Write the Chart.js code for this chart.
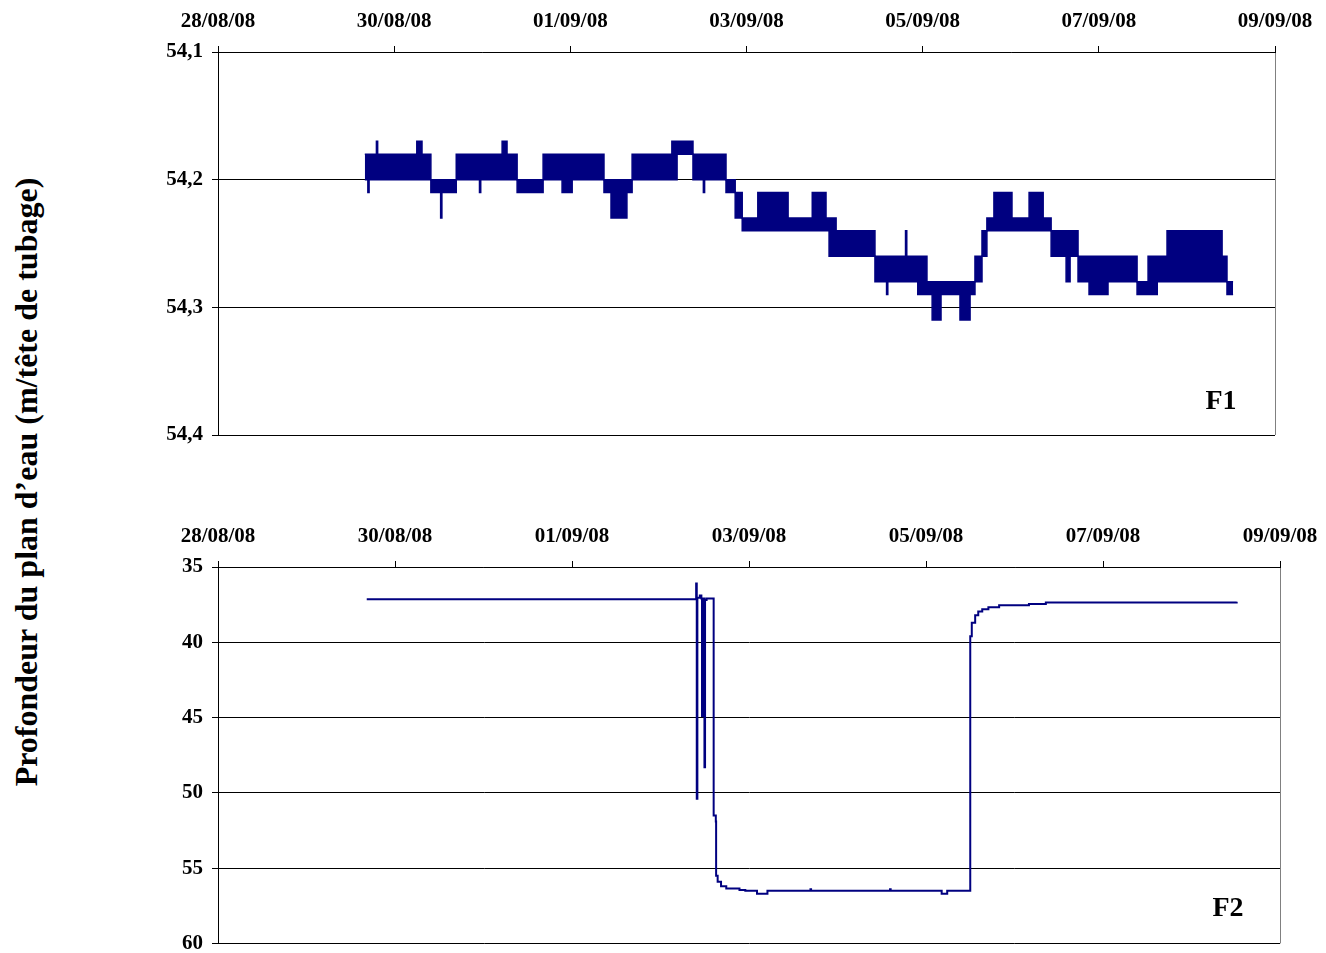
<!DOCTYPE html>
<html>
<head>
<meta charset="utf-8">
<script src="https://cdn.jsdelivr.net/npm/chart.js@4.4.1/dist/chart.umd.min.js"></script>
<style>
  html, body { margin: 0; padding: 0; background: #fff; width: 1326px; height: 953px; overflow: hidden; }
  canvas { position: absolute; left: 0; }
  #c1 { top: 0; }
  #c2 { top: 515px; }
  #ytitle {
    position: absolute; left: 26px; top: 482px;
    transform: translate(-50%, -50%) rotate(-90deg);
    font: bold 32px "Liberation Serif", "Times New Roman", serif;
    white-space: nowrap; color: #000;
  }
</style>
</head>
<body>
<div id="ytitle">Profondeur du plan d’eau (m/tête de tubage)</div>
<canvas id="c1" width="1340" height="470"></canvas>
<canvas id="c2" width="1340" height="450"></canvas>
<script>
// Axis range and tick labels
const axisStart = '28/08/08 00:00';
const axisEnd = '09/09/08 00:00';
const f1Ticks = [54.1, 54.2, 54.3, 54.4];
const f2Ticks = [35, 40, 45, 50, 55, 60];

// F1: water depth recorded as a fast-flickering band; each row gives the
// band's shallow and deep level from that time until the next row.
const f1Time = [
  '29/08/08 16:00','29/08/08 16:50','29/08/08 17:10','29/08/08 19:10','29/08/08 19:30',
  '30/08/08 06:10','30/08/08 07:35','30/08/08 10:00','30/08/08 12:40','30/08/08 13:00',
  '30/08/08 16:55','30/08/08 23:15','30/08/08 23:35','31/08/08 05:25','31/08/08 06:45',
  '31/08/08 09:30','31/08/08 16:35','31/08/08 21:45','01/09/08 00:30','01/09/08 09:10',
  '01/09/08 11:05','01/09/08 15:25','01/09/08 16:50','02/09/08 03:40','02/09/08 05:05',
  '02/09/08 09:25','02/09/08 12:15','02/09/08 12:35','02/09/08 18:25','02/09/08 20:55',
  '02/09/08 22:50','03/09/08 03:05','03/09/08 11:20','03/09/08 17:55','03/09/08 21:40',
  '03/09/08 22:30','04/09/08 00:25','04/09/08 11:00','04/09/08 14:10','04/09/08 14:30',
  '04/09/08 19:20','04/09/08 19:40','04/09/08 22:40','05/09/08 01:10','05/09/08 02:35',
  '05/09/08 05:00','05/09/08 10:10','05/09/08 12:55','05/09/08 14:15','05/09/08 16:10',
  '05/09/08 17:30','05/09/08 19:25','06/09/08 00:20','06/09/08 05:00','06/09/08 08:50',
  '06/09/08 11:00','06/09/08 15:05','06/09/08 16:10','06/09/08 18:20','06/09/08 21:20',
  '07/09/08 02:30','07/09/08 10:25','07/09/08 13:25','07/09/08 15:55','07/09/08 18:35',
  '08/09/08 09:35','08/09/08 10:55','08/09/08 12:35'
];
const f1Min = [
  54.18,54.18,54.18,54.17,54.18,
  54.17,54.18,54.20,54.20,54.20,
  54.18,54.18,54.18,54.17,54.18,
  54.20,54.18,54.18,54.18,54.20,
  54.20,54.20,54.18,54.17,54.17,
  54.18,54.18,54.18,54.20,54.21,
  54.23,54.21,54.23,54.21,54.23,
  54.23,54.24,54.26,54.26,54.26,
  54.24,54.26,54.26,54.28,54.28,
  54.28,54.28,54.28,54.26,54.24,
  54.23,54.21,54.23,54.21,54.23,
  54.24,54.24,54.24,54.26,54.26,
  54.26,54.28,54.26,54.26,54.24,
  54.26,54.28,54.28
];
const f1Max = [
  54.20,54.21,54.20,54.20,54.20,
  54.20,54.20,54.21,54.23,54.21,
  54.20,54.21,54.20,54.20,54.20,
  54.21,54.20,54.21,54.20,54.21,
  54.23,54.21,54.20,54.20,54.18,
  54.20,54.21,54.20,54.21,54.23,
  54.24,54.24,54.24,54.24,54.24,
  54.26,54.26,54.28,54.29,54.28,
  54.28,54.28,54.29,54.29,54.31,
  54.29,54.31,54.29,54.28,54.26,
  54.24,54.24,54.24,54.24,54.24,
  54.26,54.28,54.26,54.28,54.29,
  54.28,54.29,54.29,54.28,54.28,
  54.28,54.29,54.29
];

// F2: water depth, pumping drawdown and recovery
const f2Time = [
  '29/08/08 16:20','02/09/08 09:35','02/09/08 09:40','02/09/08 09:50','02/09/08 10:00',
  '02/09/08 10:40','02/09/08 11:05','02/09/08 11:15','02/09/08 11:25','02/09/08 11:35',
  '02/09/08 11:45','02/09/08 11:55','02/09/08 12:05','02/09/08 12:30','02/09/08 14:20',
  '02/09/08 14:25','02/09/08 15:00','02/09/08 15:05','02/09/08 15:30','02/09/08 16:25',
  '02/09/08 17:50','02/09/08 21:25','02/09/08 23:00','03/09/08 02:00','03/09/08 02:10',
  '03/09/08 04:50','03/09/08 05:00','03/09/08 16:30','03/09/08 16:40','03/09/08 16:50',
  '04/09/08 14:05','04/09/08 14:15','04/09/08 14:25','05/09/08 04:05','05/09/08 04:15',
  '05/09/08 05:35','05/09/08 05:45','05/09/08 11:55','05/09/08 12:00','05/09/08 12:25',
  '05/09/08 13:20','05/09/08 14:10','05/09/08 15:15','05/09/08 16:55','05/09/08 19:50',
  '06/09/08 03:55','06/09/08 08:30','08/09/08 12:15'
];
const f2Depth = [
  37.15,37.15,36.1,50.4,37.05,
  36.9,37.1,44.9,37.2,44.6,
  37.1,48.3,37.2,37.1,37.1,
  51.5,51.9,55.5,55.9,56.2,
  56.35,56.45,56.5,56.5,56.7,
  56.7,56.5,56.5,56.4,56.5,
  56.5,56.4,56.5,56.5,56.7,
  56.7,56.5,56.5,39.6,38.7,
  38.2,37.95,37.8,37.67,37.54,
  37.45,37.36,37.3
];

const NAVY = '#000080';
const FONT_FAMILY = '"Liberation Serif", "Times New Roman", serif';
const DAY = 86400000;

function parseStamp(s) {
  const [d, t] = s.split(' ');
  const [dd, mm, yy] = d.split('/').map(Number);
  const [hh, mi] = t.split(':').map(Number);
  return Date.UTC(2000 + yy, mm - 1, dd, hh, mi);
}
function fmtDate(v) {
  const d = new Date(v);
  const p = n => String(n).padStart(2, '0');
  return p(d.getUTCDate()) + '/' + p(d.getUTCMonth() + 1) + '/' + p(d.getUTCFullYear() % 100);
}

// Panel tag ("F1", "F2") written in the lower right corner of the plot area
const panelTag = {
  id: 'panelTag',
  afterDatasetsDraw(chart, args, opts) {
    const { ctx, chartArea } = chart;
    ctx.save();
    ctx.font = 'bold 28px ' + FONT_FAMILY;
    ctx.fillStyle = '#000';
    ctx.textAlign = 'center';
    ctx.textBaseline = 'alphabetic';
    ctx.fillText(opts.text, chartArea.right - opts.dx, chartArea.bottom - opts.dy);
    ctx.restore();
  }
};

function makeOptions(yTicks, yFormat, tag, pad) {
  const tickFont = { family: FONT_FAMILY, weight: 'bold', size: 21 };
  const lastIdx = c => c.index === c.scale.ticks.length - 1;
  return {
    responsive: false,
    animation: false,
    devicePixelRatio: 1,
    events: [],
    layout: { padding: pad },
    plugins: { legend: { display: false }, tooltip: { enabled: false }, panelTag: tag },
    scales: {
      x: {
        type: 'linear',
        position: 'top',
        min: parseStamp(axisStart),
        max: parseStamp(axisEnd),
        ticks: { stepSize: 2 * DAY, callback: fmtDate, font: tickFont, color: '#000',
                 padding: 12, maxRotation: 0, autoSkip: false },
        grid: { color: c => lastIdx(c) ? '#808080' : 'rgba(0,0,0,0)', tickColor: '#000',
                tickLength: 6, lineWidth: 1 },
        border: { color: '#000', width: 1 },
        afterFit(s) { s.height = 52; }
      },
      y: {
        type: 'linear',
        reverse: true,
        min: yTicks[0],
        max: yTicks[yTicks.length - 1],
        ticks: { stepSize: yTicks[1] - yTicks[0], callback: yFormat, font: tickFont,
                 color: '#000', padding: 9 },
        grid: { color: c => lastIdx(c) ? '#808080' : '#000', tickColor: '#000',
                tickLength: 6, lineWidth: 1 },
        border: { color: '#000', width: 1 },
        afterFit(s) { s.width = 218; }
      }
    }
  };
}

const f1Points = arr => f1Time.map((t, i) => ({ x: parseStamp(t), y: arr[i] }));

new Chart(document.getElementById('c1'), {
  type: 'line',
  data: {
    datasets: [
      { label: 'F1 (niveau haut)', data: f1Points(f1Min), stepped: true, borderColor: NAVY,
        borderWidth: 1.5, pointRadius: 0, fill: false },
      { label: 'F1 (niveau bas)', data: f1Points(f1Max), stepped: true, borderColor: NAVY,
        borderWidth: 1.5, pointRadius: 0, fill: '-1', backgroundColor: NAVY }
    ]
  },
  options: makeOptions(f1Ticks, v => v.toFixed(1).replace('.', ','),
    { text: 'F1', dx: 54, dy: 26 }, { left: 0, top: 0, right: 65, bottom: 35 }),
  plugins: [panelTag]
});

new Chart(document.getElementById('c2'), {
  type: 'line',
  data: {
    datasets: [
      { label: 'F2', data: f2Time.map((t, i) => ({ x: parseStamp(t), y: f2Depth[i] })),
        stepped: true, borderColor: NAVY, borderWidth: 2, pointRadius: 0, fill: false }
    ]
  },
  options: makeOptions(f2Ticks, v => String(v),
    { text: 'F2', dx: 52, dy: 27 }, { left: 0, top: 0, right: 60, bottom: 20 }),
  plugins: [panelTag]
});
</script>
</body>
</html>
